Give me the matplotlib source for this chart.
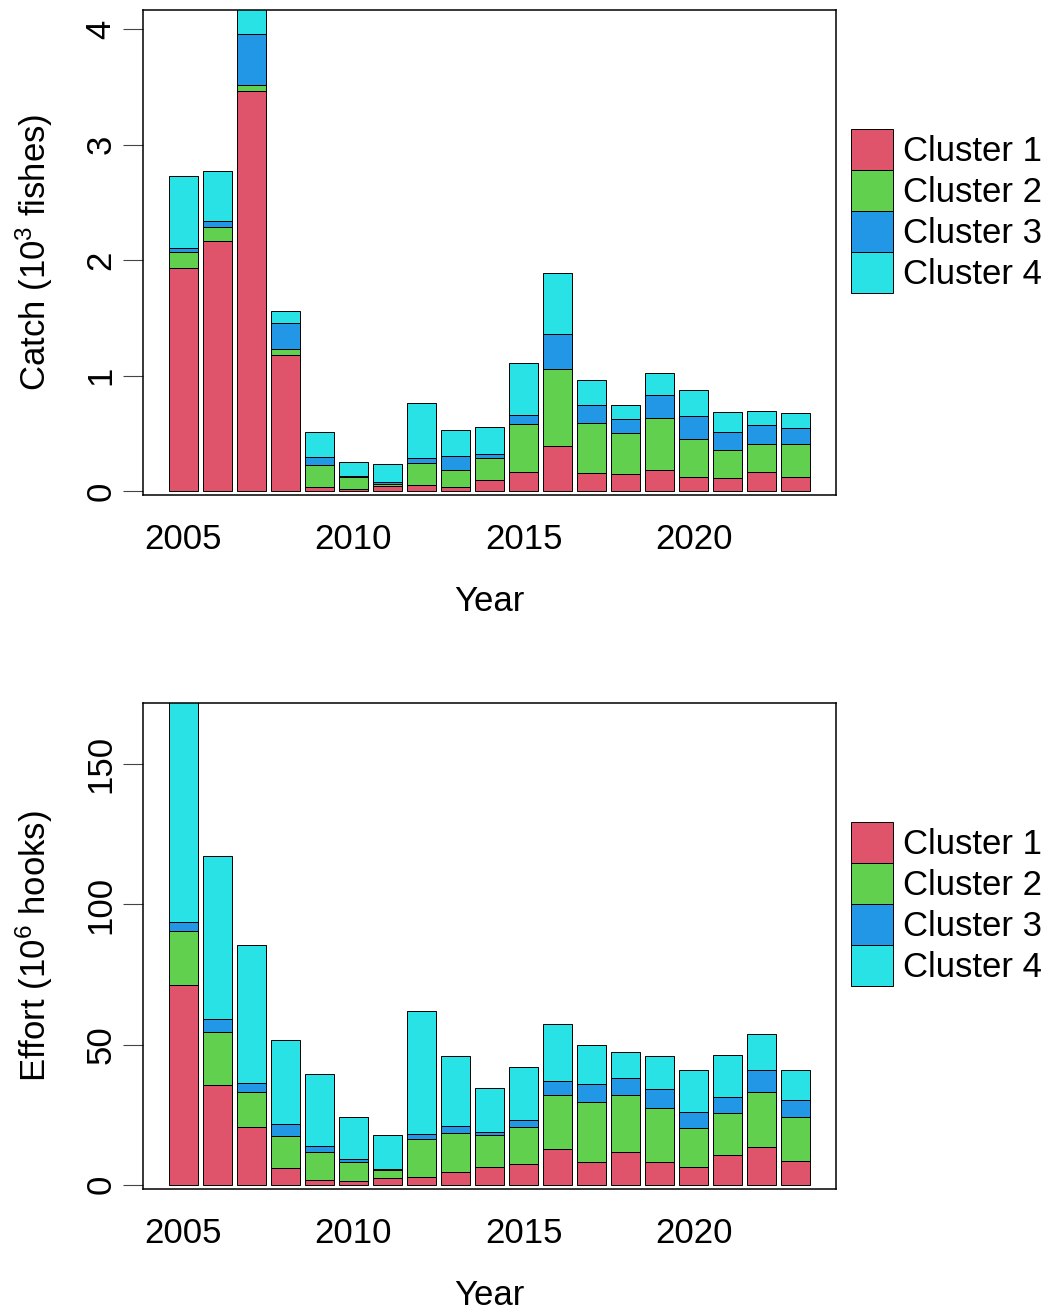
import matplotlib
matplotlib.use("Agg")
import matplotlib.pyplot as plt
from matplotlib.patches import Patch
import numpy as np

plt.rcParams['font.family'] = ['Liberation Sans', 'DejaVu Sans']
plt.rcParams['mathtext.default'] = 'regular'

years = np.arange(2005, 2024)
clusters = ['Cluster 1', 'Cluster 2', 'Cluster 3', 'Cluster 4']
colors = ['#DF536B', '#61D04F', '#2297E6', '#28E2E5']

# catch by cluster, 10^3 fishes
catch_c1 = [1.93, 2.17, 3.46, 1.18, 0.04, 0.017, 0.043, 0.058, 0.037, 0.10,
            0.167, 0.39, 0.156, 0.147, 0.188, 0.121, 0.118, 0.167, 0.121]
catch_c2 = [0.145, 0.115, 0.06, 0.05, 0.19, 0.11, 0.023, 0.187, 0.147, 0.188,
            0.419, 0.666, 0.439, 0.358, 0.45, 0.329, 0.24, 0.246, 0.286]
catch_c3 = [0.032, 0.057, 0.44, 0.23, 0.063, 0.006, 0.012, 0.043, 0.119, 0.032,
            0.072, 0.306, 0.156, 0.118, 0.196, 0.199, 0.153, 0.164, 0.144]
catch_c4 = [0.62, 0.43, 0.55, 0.10, 0.217, 0.12, 0.162, 0.48, 0.225, 0.24,
            0.453, 0.531, 0.21, 0.128, 0.19, 0.231, 0.173, 0.118, 0.127]

# effort by cluster, 10^6 hooks
effort_c1 = [71.3, 35.6, 20.6, 6.0, 1.8, 1.2, 2.3, 2.9, 4.6, 6.3,
             7.4, 12.75, 8.1, 11.7, 8.1, 6.3, 10.5, 13.4, 8.4]
effort_c2 = [19.3, 19.0, 12.3, 11.4, 10.0, 7.0, 3.0, 13.3, 14.0, 11.3,
             13.3, 19.15, 21.4, 20.4, 19.4, 14.1, 15.2, 19.7, 15.7]
effort_c3 = [3.0, 4.5, 3.5, 4.3, 1.9, 1.0, 0.3, 1.9, 2.4, 1.2,
             2.4, 5.1, 6.6, 5.8, 6.6, 5.5, 5.6, 8.0, 6.3]
effort_c4 = [85.0, 58.2, 49.0, 30.0, 25.7, 15.1, 12.0, 44.0, 25.1, 15.6,
             18.9, 20.4, 13.9, 9.6, 12.0, 15.0, 15.0, 12.5, 10.5]

fs = 25
W, H = 1050, 1313
fig = plt.figure(figsize=(W / 100, H / 100), dpi=100)


def stacked(ax, series, ylim, yticks, ylabel, leg_top):
    bottom = np.zeros(len(years))
    for vals, col in zip(series, colors):
        ax.bar(years, vals, width=0.833, bottom=bottom, color=col,
               edgecolor='black', linewidth=0.7)
        bottom += np.array(vals)
    ax.set_xlim(years[0] - 1.19, years[-1] + 1.19)
    ax.set_ylim(*ylim)
    ax.set_yticks(yticks)
    ax.set_xticks([2005, 2010, 2015, 2020])
    ax.tick_params(axis='x', length=0, pad=20, labelsize=fs)
    ax.tick_params(axis='y', length=14.5, width=0.8, color='#444444',
                   pad=4, labelsize=fs)
    for lab in ax.get_yticklabels():
        lab.set_rotation(90)
        lab.set_va('center')
    for sp in ax.spines.values():
        sp.set_linewidth(1.1)
    ax.set_xlabel('Year', fontsize=fs, labelpad=21)
    ax.set_ylabel(ylabel, fontsize=fs, labelpad=21)
    handles = [Patch(facecolor=c, edgecolor='black', linewidth=0.7) for c in colors]
    ax.legend(handles, clusters, loc='upper left', frameon=False,
              bbox_to_anchor=(851 / W, 1 - leg_top / H),
              bbox_transform=fig.transFigure, fontsize=fs,
              borderpad=0, borderaxespad=0, labelspacing=0,
              handlelength=1.2, handleheight=1.44, handletextpad=0.3)


ax1 = fig.add_axes([143 / W, 1 - 495 / H, 693 / W, 485 / H])
stacked(ax1, [catch_c1, catch_c2, catch_c3, catch_c4], (-0.032, 4.165),
        [0, 1, 2, 3, 4], 'Catch (10$^{3}$ fishes)', 129)

ax2 = fig.add_axes([143 / W, 1 - 1189 / H, 693 / W, 486 / H])
stacked(ax2, [effort_c1, effort_c2, effort_c3, effort_c4], (-1.54, 171.9),
        [0, 50, 100, 150], 'Effort (10$^{6}$ hooks)', 822)

fig.savefig('out.png', dpi=100)
